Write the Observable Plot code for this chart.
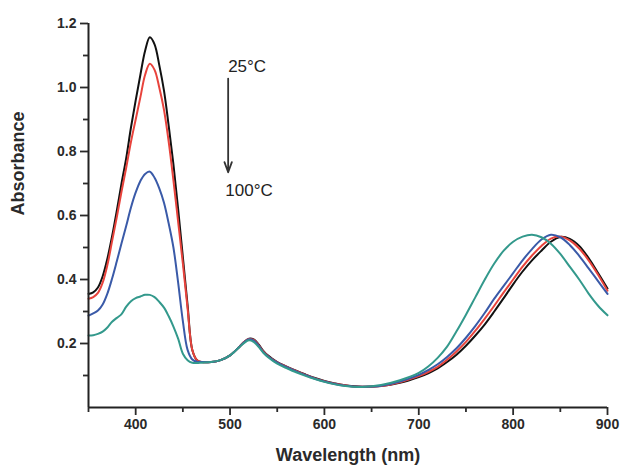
<!DOCTYPE html>
<html>
<head>
<meta charset="utf-8">
<script src="https://cdn.jsdelivr.net/npm/d3@7"></script>
<script src="https://cdn.jsdelivr.net/npm/@observablehq/plot@0.6"></script>
<style>
  html, body { margin: 0; padding: 0; background: white; }
</style>
</head>
<body>
<div id="chart"></div>
<script>
const wavelength = [350,355,360,365,370,375,380,385,390,395,400,405,410,415,420,425,430,435,440,445,450,455,460,465,470,
  480,490,500,510,515,520,525,530,535,540,
  550,560,570,580,590,600,610,620,630,640,
  660,680,700,710,720,730,740,750,760,770,780,790,800,
  810,820,830,840,850,860,870,880,890,900];

const series = ["25°C", "T2", "T3", "100°C"];
const seriesColors = ["#111111", "#e8433c", "#3a5aa8", "#33998c"];

const abs25 = [0.355,0.36,0.375,0.41,0.465,0.535,0.615,0.70,0.78,0.875,0.96,1.04,1.115,1.157,1.135,1.07,0.99,0.88,0.76,0.62,0.47,0.32,0.18,0.148,0.142,
  0.142,0.148,0.163,0.19,0.205,0.215,0.213,0.198,0.178,0.163,
  0.142,0.128,0.115,0.103,0.092,0.083,0.076,0.07,0.067,0.065,
  0.067,0.077,0.095,0.107,0.122,0.142,0.165,0.193,0.225,0.26,0.30,0.342,0.385,
  0.425,0.46,0.49,0.518,0.533,0.527,0.505,0.467,0.42,0.372];

const absT2 = [0.34,0.345,0.358,0.39,0.445,0.52,0.595,0.675,0.75,0.83,0.90,0.97,1.04,1.074,1.055,1.0,0.93,0.83,0.71,0.58,0.45,0.31,0.18,0.148,0.142,
  0.142,0.148,0.163,0.19,0.205,0.214,0.211,0.196,0.176,0.161,
  0.141,0.127,0.114,0.102,0.091,0.082,0.075,0.07,0.066,0.065,
  0.067,0.079,0.098,0.111,0.127,0.149,0.175,0.205,0.24,0.278,0.318,0.36,0.40,
  0.44,0.475,0.505,0.528,0.534,0.522,0.497,0.46,0.415,0.365];

const absT3 = [0.287,0.294,0.303,0.322,0.356,0.403,0.457,0.513,0.568,0.625,0.672,0.708,0.73,0.737,0.718,0.685,0.64,0.575,0.50,0.39,0.27,0.18,0.15,0.143,0.142,
  0.142,0.148,0.163,0.19,0.204,0.213,0.209,0.194,0.174,0.16,
  0.14,0.126,0.113,0.101,0.09,0.081,0.074,0.069,0.066,0.065,
  0.068,0.081,0.102,0.117,0.135,0.158,0.185,0.218,0.255,0.296,0.34,0.38,0.42,
  0.46,0.495,0.525,0.54,0.532,0.508,0.474,0.435,0.395,0.355];

const abs100 = [0.225,0.226,0.23,0.237,0.25,0.268,0.28,0.292,0.315,0.332,0.342,0.347,0.352,0.352,0.345,0.33,0.312,0.285,0.253,0.215,0.168,0.148,0.14,0.139,0.14,
  0.142,0.148,0.163,0.189,0.202,0.21,0.205,0.19,0.172,0.158,
  0.137,0.123,0.11,0.099,0.089,0.08,0.073,0.068,0.065,0.064,
  0.07,0.085,0.108,0.128,0.155,0.19,0.238,0.29,0.345,0.40,0.45,0.49,0.518,
  0.534,0.54,0.532,0.512,0.48,0.44,0.40,0.356,0.318,0.288];

const xMajor = [400,500,600,700,800,900];
const xMinor = [350,450,550,650,750,850];
const yMajor = [0.2,0.4,0.6,0.8,1.0,1.2];
const yMinor = [0.1,0.3,0.5,0.7,0.9,1.1];

const annoText = ["25°C", "100°C"];
const annoX = [498, 495];
const annoY = [1.066, 0.678];
const arrowFrom = {x: 498, y: 1.028};
const arrowTo = {x: 498, y: 0.735};

const allSeries = [abs25, absT2, absT3, abs100];
const rows = [];
allSeries.forEach((vals, i) => {
  vals.forEach((v, j) => rows.push({wl: wavelength[j], a: v, s: series[i]}));
});
const annos = annoText.map((t, i) => ({t, x: annoX[i], y: annoY[i]}));

const font = "'Liberation Sans', Arial, Helvetica, sans-serif";

const chart = Plot.plot({
  width: 620,
  height: 466,
  marginLeft: 88,
  marginRight: 13,
  marginTop: 23,
  marginBottom: 59,
  style: {fontFamily: font, background: "white", overflow: "visible"},
  x: {domain: [350, 900]},
  y: {domain: [0, 1.2]},
  color: {domain: series, range: seriesColors},
  marks: [
    Plot.line(rows, {x: "wl", y: "a", z: "s", stroke: "s", strokeWidth: 2, curve: "catmull-rom"}),
    Plot.ruleY([0], {stroke: "#222", strokeWidth: 2}),
    Plot.ruleX([350], {y1: 0, y2: 1.2, stroke: "#222", strokeWidth: 2}),
    Plot.axisX({ticks: xMajor, tickSize: 8, tickPadding: 4, tickFormat: d => String(d), fontSize: 14, fontWeight: "bold", color: "#2a2a2a", strokeWidth: 1.8, label: null}),
    Plot.axisX({ticks: xMinor, tickSize: 5, tickFormat: () => "", color: "#2a2a2a", strokeWidth: 1.8, label: null}),
    Plot.axisY({ticks: yMajor, tickSize: 8, tickPadding: 4, tickFormat: d => d.toFixed(1), fontSize: 14, fontWeight: "bold", color: "#2a2a2a", strokeWidth: 1.8, label: null}),
    Plot.axisY({ticks: yMinor, tickSize: 5, tickFormat: () => "", color: "#2a2a2a", strokeWidth: 1.8, label: null}),
    Plot.text(["Wavelength (nm)"], {frameAnchor: "bottom", dy: 48, fontSize: 18, fontWeight: "bold", fill: "#2a2a2a", lineAnchor: "middle"}),
    Plot.text(["Absorbance"], {frameAnchor: "left", dx: -70, rotate: -90, fontSize: 18, fontWeight: "bold", fill: "#2a2a2a", lineAnchor: "middle"}),
    Plot.text(annos, {x: "x", y: "y", text: "t", textAnchor: "start", lineAnchor: "middle", fontSize: 17, fill: "#222"}),
    Plot.arrow([0], {x1: arrowFrom.x, y1: arrowFrom.y, x2: arrowTo.x, y2: arrowTo.y, stroke: "#333", strokeWidth: 1.8, headLength: 9, headAngle: 40})
  ]
});
document.getElementById("chart").appendChild(chart);
</script>
</body>
</html>
